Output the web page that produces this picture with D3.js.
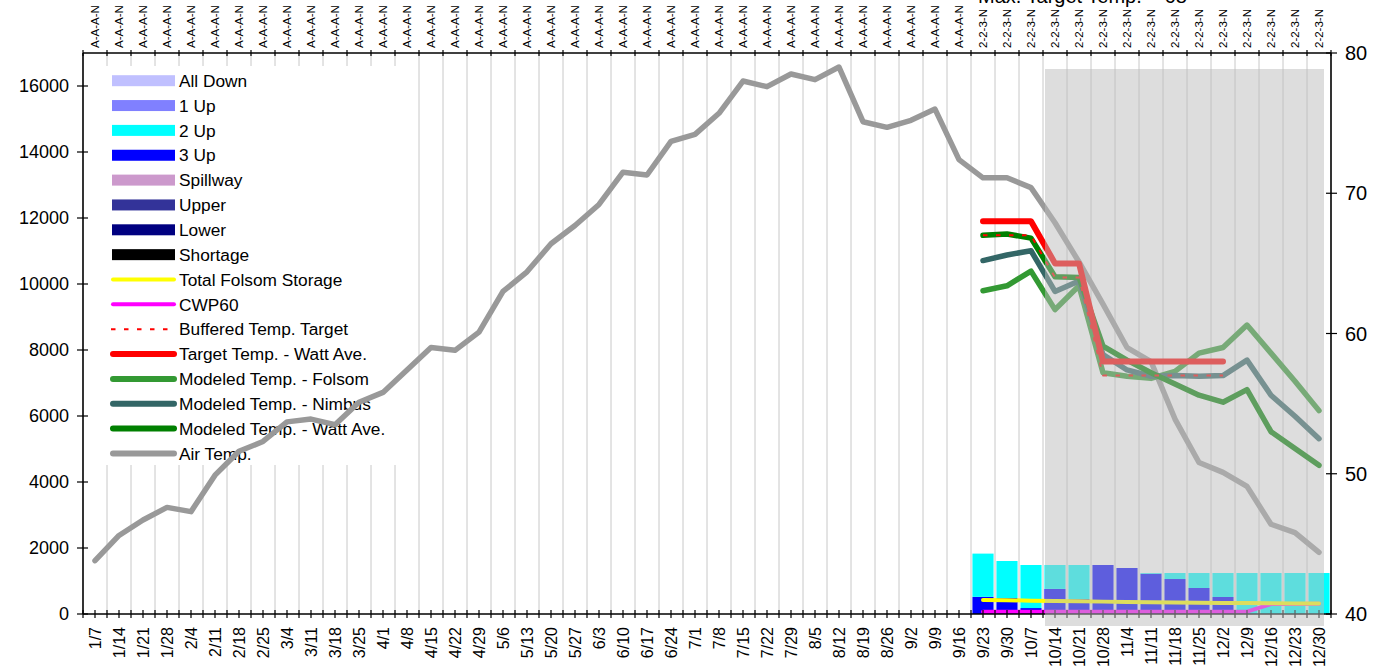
<html>
<head>
<script src="https://cdnjs.cloudflare.com/ajax/libs/d3/7.8.5/d3.min.js"></script>
<style>
  body { margin: 0; background: #fff; }
  text { font-family: "Liberation Sans", Arial, sans-serif; fill: #000; }
</style>
</head>
<body>
<svg width="1374" height="671"></svg>
<script>
// weekly categories
let weeks = ["1/7","1/14","1/21","1/28","2/4","2/11","2/18","2/25","3/4","3/11","3/18","3/25",
  "4/1","4/8","4/15","4/22","4/29","5/6","5/13","5/20","5/27","6/3","6/10","6/17","6/24",
  "7/1","7/8","7/15","7/22","7/29","8/5","8/12","8/19","8/26","9/2","9/9","9/16","9/23","9/30",
  "10/7","10/14","10/21","10/28","11/4","11/11","11/18","11/25","12/2","12/9","12/16","12/23","12/30"];
let topCodes = Array(37).fill("A-A-A-N").concat(Array(15).fill("2-2-3-N"));

let airTemp = [43.8,45.6,46.7,47.6,47.3,49.9,51.6,52.3,53.7,53.9,53.5,55.1,55.8,57.4,59.0,58.8,60.1,
  63.0,64.4,66.4,67.7,69.2,71.5,71.3,73.7,74.2,75.7,78.0,77.6,78.5,78.1,79.0,75.1,74.7,75.2,76.0,
  72.4,71.1,71.1,70.4,67.9,65.1,62.1,59.0,58.0,53.9,50.8,50.1,49.1,46.4,45.8,44.4];

// forecast part, 9/23 .. 12/30
let fcWeeks = weeks.slice(37);
let threeUp = [520,485,180,760,455,1485,1394,1220,1060,788,515,0,0,0,0];
let twoUp   = [1310,1121,1305,725,1030,0,0,22,182,454,727,1242,1242,1242,1242];
let storage = [425,418,405,395,385,375,365,357,350,343,336,330,325,320,315];
let cwp60   = [70,70,70,70,70,70,70,70,70,70,70,70,300,305,310];
let folsom  = [63.05,63.4,64.45,61.7,63.4,57.2,56.95,56.8,57.3,58.6,59.0,60.6,58.6,56.6,54.5];
let nimbus  = [65.2,65.6,65.9,63.0,63.75,58.5,57.4,56.95,57.0,56.95,57.0,58.1,55.6,54.1,52.5];
let watt    = [67.0,67.1,66.8,64.05,64.0,59.1,58.1,57.2,56.4,55.6,55.1,56.0,53.0,51.8,50.6];
// 9/23 .. 12/2
let targetWeeks = weeks.slice(37, 48);
let target   = [68,68,68,65,65,58,58,58,58,58,58];
let buffered = [67,67,67,64,64,57,57,57,57,57,57];

let leftTicks = [0,2000,4000,6000,8000,10000,12000,14000,16000];
let rightTicks = [40,50,60,70,80];

let legendItems = [
  {name: "All Down", kind: "box", color: "#c0c0ff"},
  {name: "1 Up", kind: "box", color: "#8080ff"},
  {name: "2 Up", kind: "box", color: "#00ffff"},
  {name: "3 Up", kind: "box", color: "#0000ff"},
  {name: "Spillway", kind: "box", color: "#cc99cc"},
  {name: "Upper", kind: "box", color: "#333399"},
  {name: "Lower", kind: "box", color: "#000080"},
  {name: "Shortage", kind: "box", color: "#000000"},
  {name: "Total Folsom Storage", kind: "line", color: "#ffff00", w: 4},
  {name: "CWP60", kind: "line", color: "#ff00ff", w: 4},
  {name: "Buffered Temp. Target", kind: "dash", color: "#ff0000", w: 2},
  {name: "Target Temp. - Watt Ave.", kind: "line", color: "#ff0000", w: 6},
  {name: "Modeled Temp. - Folsom", kind: "line", color: "#339933", w: 6},
  {name: "Modeled Temp. - Nimbus", kind: "line", color: "#336666", w: 6},
  {name: "Modeled Temp. - Watt Ave.", kind: "line", color: "#008000", w: 6},
  {name: "Air Temp.", kind: "line", color: "#999999", w: 6}
];

var pLeft = 83, pRight = 1331, pTop = 53, pBottom = 614;
var svg = d3.select("svg");

var x = d3.scaleBand().domain(weeks).range([pLeft, pRight]);
var bw = x.bandwidth();
var cx = d => x(d) + bw / 2;
var yL = d3.scaleLinear().domain([0, 17000]).range([pBottom, pTop]);
var yR = d3.scaleLinear().domain([40, 80]).range([pBottom, pTop]);

// gridlines
svg.append("g").selectAll("line")
  .data(weeks.slice(1))
  .enter().append("line")
  .attr("x1", d => x(d)).attr("x2", d => x(d))
  .attr("y1", pTop).attr("y2", pBottom)
  .attr("stroke", "#c8c8c8").attr("stroke-width", 1);

// stacked bars
var barRows = fcWeeks.map((w, i) => ({week: w, threeUp: threeUp[i], twoUp: twoUp[i]}));
var stack = d3.stack().keys(["threeUp", "twoUp"])(barRows);
var barColors = {threeUp: "#0000ff", twoUp: "#00ffff"};
svg.append("g").selectAll("g")
  .data(stack)
  .enter().append("g")
  .attr("fill", d => barColors[d.key])
  .selectAll("rect")
  .data(d => d)
  .enter().append("rect")
  .attr("x", d => x(d.data.week) + bw * 0.06)
  .attr("width", bw * 0.88)
  .attr("y", d => yL(d[1]))
  .attr("height", d => yL(d[0]) - yL(d[1]));

// legend box
var legend = svg.append("g");
legend.append("rect")
  .attr("x", 95).attr("y", 66).attr("width", 308).attr("height", 399)
  .attr("fill", "#fff");
legendItems.forEach((it, i) => {
  var yy = 80.7 + i * 24.85;
  if (it.kind == "box") {
    legend.append("rect").attr("x", 112).attr("y", yy - 5.5).attr("width", 63).attr("height", 11)
      .attr("fill", it.color);
  } else {
    legend.append("line").attr("x1", it.kind == "dash" ? 111 : 113).attr("x2", 174)
      .attr("y1", yy).attr("y2", yy)
      .attr("stroke", it.color).attr("stroke-width", it.w)
      .attr("stroke-linecap", it.kind == "dash" ? "butt" : "round")
      .attr("stroke-dasharray", it.kind == "dash" ? "4.5,8.5" : null);
  }
  legend.append("text").attr("x", 179).attr("y", yy).attr("dy", "0.36em")
    .style("font-size", "17.3px").text(it.name);
});

// lines
function drawLine(xs, vals, scale, color, width, dash) {
  var line = d3.line().x(d => cx(d[0])).y(d => scale(d[1]));
  svg.append("path")
    .datum(xs.map((w, i) => [w, vals[i]]))
    .attr("d", line)
    .attr("fill", "none")
    .attr("stroke", color)
    .attr("stroke-width", width)
    .attr("stroke-linejoin", "round")
    .attr("stroke-linecap", dash ? "butt" : "round")
    .attr("stroke-dasharray", dash || null);
}
drawLine(fcWeeks, cwp60, yL, "#ff00ff", 4);
drawLine(fcWeeks, storage, yL, "#ffff00", 4);
drawLine(weeks, airTemp, yR, "#999999", 5.5);
drawLine(fcWeeks, folsom, yR, "#339933", 5.5);
drawLine(fcWeeks, nimbus, yR, "#336666", 5.5);
drawLine(fcWeeks, watt, yR, "#008000", 5.5);
drawLine(targetWeeks, target, yR, "#ff0000", 6);
drawLine(targetWeeks, buffered, yR, "#ff0000", 2, "4.5,8.5");

// axes
var ax = svg.append("g").attr("stroke", "#000");
ax.append("line").attr("x1", pLeft).attr("x2", pRight).attr("y1", pBottom).attr("y2", pBottom).attr("stroke-width", 1.6);
ax.append("line").attr("x1", pLeft).attr("x2", pRight).attr("y1", pTop).attr("y2", pTop).attr("stroke-width", 1.6);
ax.append("line").attr("x1", pLeft).attr("x2", pLeft).attr("y1", pTop).attr("y2", pBottom).attr("stroke-width", 1.6);
ax.append("line").attr("x1", pRight).attr("x2", pRight).attr("y1", pTop).attr("y2", pBottom).attr("stroke-width", 1.6);

var bottomTicks = [];
weeks.forEach(w => { bottomTicks.push(x(w)); bottomTicks.push(cx(w)); });
bottomTicks.push(pRight);
ax.selectAll(".bt").data(bottomTicks).enter().append("line")
  .attr("x1", d => d).attr("x2", d => d).attr("y1", pBottom - 4).attr("y2", pBottom + 4).attr("stroke-width", 1.2);
ax.selectAll(".tt").data(weeks.concat(["end"])).enter().append("line")
  .attr("x1", d => d == "end" ? pRight : x(d)).attr("x2", d => d == "end" ? pRight : x(d))
  .attr("y1", pTop - 3).attr("y2", pTop + 3).attr("stroke-width", 1.2);
ax.selectAll(".lt").data(leftTicks).enter().append("line")
  .attr("x1", pLeft - 6).attr("x2", pLeft + 5).attr("y1", d => yL(d)).attr("y2", d => yL(d)).attr("stroke-width", 1.2);
ax.selectAll(".rt").data(rightTicks).enter().append("line")
  .attr("x1", pRight - 5).attr("x2", pRight + 6).attr("y1", d => yR(d)).attr("y2", d => yR(d)).attr("stroke-width", 1.2);

svg.append("g").selectAll("text").data(leftTicks).enter().append("text")
  .attr("x", 69).attr("y", d => yL(d)).attr("dy", "0.36em").attr("text-anchor", "end")
  .style("font-size", "18px").text(d => d);
svg.append("g").selectAll("text").data(rightTicks).enter().append("text")
  .attr("x", 1345).attr("y", d => yR(d)).attr("dy", "0.36em")
  .style("font-size", "20px").text(d => d);

svg.append("g").selectAll("text").data(weeks).enter().append("text")
  .attr("transform", d => "translate(" + cx(d) + ",627) rotate(-90)")
  .attr("dy", "0.36em").attr("text-anchor", "end")
  .style("font-size", "16px").text(d => d);
svg.append("g").selectAll("text").data(weeks).enter().append("text")
  .attr("transform", d => "translate(" + cx(d) + ",48) rotate(-90)")
  .attr("dy", "0.36em").attr("text-anchor", "start")
  .style("font-size", "11.5px").text((d, i) => topCodes[i]);

svg.append("text").attr("x", 978).attr("y", 3).style("font-size", "20px")
  .text("Max. Target Temp. = 68");

// shaded period overlay
svg.append("rect")
  .attr("x", x("10/14") + 2).attr("y", 69)
  .attr("width", x("12/30") + bw - 7 - x("10/14") - 2)
  .attr("height", 626 - 69)
  .attr("fill", "rgb(188,188,188)").attr("fill-opacity", 0.5);
</script>
</body>
</html>
